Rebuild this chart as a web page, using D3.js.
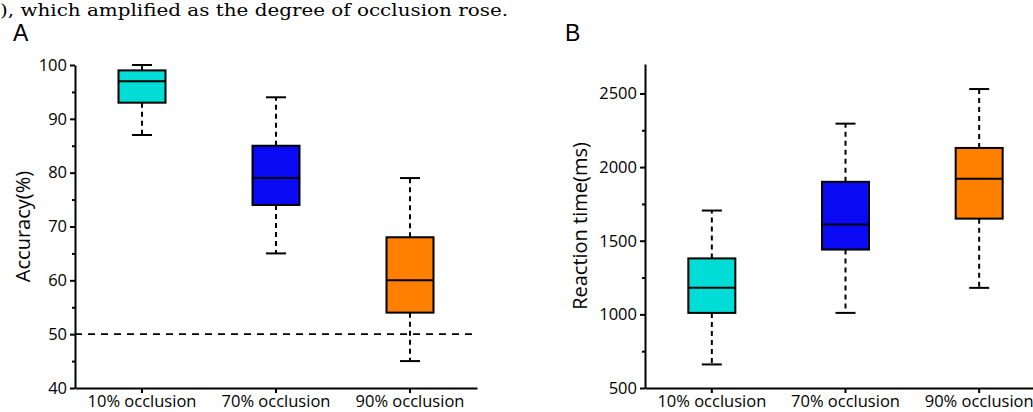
<!DOCTYPE html>
<html>
<head>
<meta charset="utf-8">
<script src="https://cdn.jsdelivr.net/npm/d3@7"></script>
<style>
  html, body { margin: 0; padding: 0; background: #fff; }
  svg { display: block; }
  text { font-family: "Open Sans", "Noto Sans", sans-serif; fill: #000; }
</style>
</head>
<body>
<svg id="chart" width="1033" height="412"></svg>
<script>
// ---------- data ----------
const categories = ["10% occlusion", "70% occlusion", "90% occlusion"];
const colors = ["#00DDD6", "#0A0AF5", "#FF7F00"];

// Panel A: accuracy (%)
const accMin    = [87, 65, 45];
const accQ1     = [93, 74, 54];
const accMedian = [97, 79, 60];
const accQ3     = [99, 85, 68];
const accMax    = [100, 94, 79];
const accTicks  = [40, 50, 60, 70, 80, 90, 100];
const accMinor  = [45, 55, 65, 75, 85, 95];
const accChance = 50;

// Panel B: reaction time (ms)
const rtMin    = [660, 1010, 1180];
const rtQ1     = [1010, 1440, 1650];
const rtMedian = [1180, 1610, 1920];
const rtQ3     = [1380, 1900, 2130];
const rtMax    = [1705, 2295, 2530];
const rtTicks  = [500, 1000, 1500, 2000, 2500];
const rtMinor  = [750, 1250, 1750, 2250];

const headerText = "), which amplified as the degree of occlusion rose.";

// ---------- drawing ----------
const svg = d3.select("#chart");

svg.append("text")
  .attr("x", 0).attr("y", 16)
  .attr("textLength", 508).attr("lengthAdjust", "spacingAndGlyphs")
  .style("font-family", "'DejaVu Serif', 'Liberation Serif', serif")
  .style("font-size", "17px")
  .text(headerText);

function panel(opts) {
  const x = d3.scaleBand().domain(categories).range(opts.xRange).padding(0);
  const y = d3.scaleLinear().domain(opts.yDomain).range(opts.yRange);
  const g = svg.append("g");

  // panel letter
  svg.append("text")
    .attr("x", opts.letterX).attr("y", 41)
    .style("font-family", "'Liberation Sans', Arial, sans-serif")
    .style("font-size", "23px")
    .text(opts.letter);

  // minor ticks
  const minorAxis = d3.axisLeft(y).tickValues(opts.minor).tickSize(3).tickFormat("");
  const gm = g.append("g").attr("transform", `translate(${opts.xRange[0]},0)`).call(minorAxis);
  gm.select(".domain").remove();
  gm.selectAll("line").attr("stroke-width", 2);

  // y axis
  const yAxis = d3.axisLeft(y).tickValues(opts.ticks).tickSize(5).tickPadding(3)
    .tickSizeOuter(0).tickFormat(d3.format("d"));
  const gy = g.append("g").attr("transform", `translate(${opts.xRange[0]},0)`).call(yAxis);
  gy.select(".domain").attr("stroke-width", 2);
  gy.selectAll("line").attr("stroke-width", 2);
  gy.selectAll("text").style("font-size", "16.5px").style("font-family", "'Open Sans', sans-serif");

  // x axis
  const xAxis = d3.axisBottom(x).tickSize(5).tickPadding(2).tickSizeOuter(0);
  const gx = g.append("g").attr("transform", `translate(0,${opts.yRange[0]})`).call(xAxis);
  gx.select(".domain").attr("stroke-width", 2);
  gx.selectAll("line").attr("stroke-width", 2);
  gx.selectAll("text").style("font-size", "16.5px").style("font-family", "'Open Sans', sans-serif");

  // y title
  const cy = (opts.yRange[0] + opts.yRange[1]) / 2;
  svg.append("text")
    .attr("transform", `translate(${opts.titleX},${cy}) rotate(-90)`)
    .attr("text-anchor", "middle")
    .style("font-size", "20px")
    .text(opts.title);

  // reference line
  if (opts.refLine !== undefined) {
    g.append("line")
      .attr("x1", opts.xRange[0]).attr("x2", opts.xRange[1])
      .attr("y1", y(opts.refLine)).attr("y2", y(opts.refLine))
      .attr("stroke", "#000").attr("stroke-width", 1.6)
      .attr("stroke-dasharray", "7,6");
  }

  const boxW = 47, capW = 20;
  categories.forEach((c, i) => {
    const cx = x(c) + x.bandwidth() / 2;
    const b = g.append("g");
    // whiskers (dashed)
    b.append("line").attr("x1", cx).attr("x2", cx)
      .attr("y1", y(opts.q3[i])).attr("y2", y(opts.max[i]))
      .attr("stroke", "#000").attr("stroke-width", 2).attr("stroke-dasharray", "5,4");
    b.append("line").attr("x1", cx).attr("x2", cx)
      .attr("y1", y(opts.q1[i])).attr("y2", y(opts.min[i]))
      .attr("stroke", "#000").attr("stroke-width", 2).attr("stroke-dasharray", "5,4");
    // caps
    [opts.max[i], opts.min[i]].forEach(v => {
      b.append("line").attr("x1", cx - capW / 2).attr("x2", cx + capW / 2)
        .attr("y1", y(v)).attr("y2", y(v))
        .attr("stroke", "#000").attr("stroke-width", 2);
    });
    // box
    b.append("rect")
      .attr("x", cx - boxW / 2).attr("width", boxW)
      .attr("y", y(opts.q3[i])).attr("height", y(opts.q1[i]) - y(opts.q3[i]))
      .attr("fill", colors[i]).attr("stroke", "#000").attr("stroke-width", 2);
    // median
    b.append("line").attr("x1", cx - boxW / 2).attr("x2", cx + boxW / 2)
      .attr("y1", y(opts.median[i])).attr("y2", y(opts.median[i]))
      .attr("stroke", "#000").attr("stroke-width", 2);
  });
}

panel({
  letter: "A", letterX: 13,
  xRange: [75, 477], yDomain: [40, 100], yRange: [388, 65],
  ticks: accTicks, minor: accMinor, title: "Accuracy(%)", titleX: 30,
  min: accMin, q1: accQ1, median: accMedian, q3: accQ3, max: accMax,
  refLine: accChance
});

panel({
  letter: "B", letterX: 565,
  xRange: [645, 1046], yDomain: [500, 2700], yRange: [388, 64],
  ticks: rtTicks, minor: rtMinor, title: "Reaction time(ms)", titleX: 587,
  min: rtMin, q1: rtQ1, median: rtMedian, q3: rtQ3, max: rtMax
});
</script>
</body>
</html>
